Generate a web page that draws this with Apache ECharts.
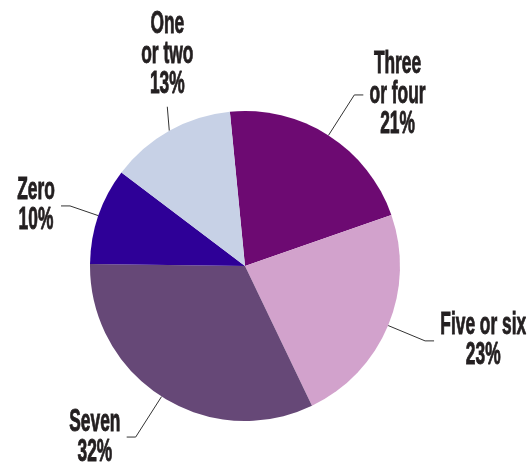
<!DOCTYPE html>
<html>
<head>
<meta charset="utf-8">
<script src="https://cdn.jsdelivr.net/npm/echarts@6/dist/echarts.min.js"></script>
<style>
  html, body { margin: 0; padding: 0; background: #ffffff; }
  #chart { width: 527px; height: 469px; }
</style>
</head>
<body>
<div id="chart"></div>
<script>
// Share of respondents by count, clockwise from the top
const categories = ['Three\nor four', 'Five or six', 'Seven', 'Zero', 'One\nor two'];
const shares = [21, 23, 32, 10, 13];
const sliceColors = ['#6d0a72', '#d2a2cc', '#664877', '#2e0097', '#c7d1e6'];
// radial leader length for each slice label
const leaderLengths = [48, 40, 48, 30, 26];

const FONT = '"Liberation Sans", Arial, sans-serif';
const TEXT_SQUEEZE = 0.56;     // horizontal squeeze that gives the labels a condensed look
const CX = 245, CY = 266;
const TOP_LABEL = 'One\nor two'; // this label sits above its slice on a vertical leader

const chart = echarts.init(document.getElementById('chart'), null, { renderer: 'canvas' });

chart.setOption({
  backgroundColor: '#ffffff',
  animation: false,
  series: [{
    type: 'pie',
    center: [CX, CY],
    radius: [0, 155],
    startAngle: 95.6,
    clockwise: true,
    avoidLabelOverlap: false,
    itemStyle: { borderWidth: 0 },
    label: {
      show: true,
      position: 'outside',
      formatter: p => p.name + '\n' + p.value + '%',
      fontFamily: FONT,
      fontWeight: 'bold',
      fontSize: 31,
      lineHeight: 30,
      color: '#231f20',
      textBorderColor: '#231f20',
      textBorderWidth: 0.9,
      align: 'center'
    },
    labelLine: {
      show: true,
      length: 40,
      length2: 9,
      lineStyle: { color: '#333333', width: 1 }
    },
    labelLayout: function (params) {
      const pts = params.labelLinePoints;
      const rect = params.labelRect;
      if (!pts) return {};
      const start = pts[0];
      const w = rect.width * TEXT_SQUEEZE;
      if (categories[params.dataIndex] === TOP_LABEL) {
        const top = [start[0] - 2, start[1] - 24];
        return {
          x: top[0],
          y: top[1] - 6 - rect.height / 2,
          align: 'center',
          verticalAlign: 'middle',
          labelLinePoints: [start, top, top]
        };
      }
      const end = pts[2];
      const dir = end[0] >= CX ? 1 : -1;
      return {
        x: end[0] + dir * (w / 2 + 6),
        y: end[1],
        align: 'center',
        verticalAlign: 'middle',
        labelLinePoints: pts
      };
    },
    data: categories.map((name, i) => ({
      name: name,
      value: shares[i],
      itemStyle: { color: sliceColors[i] },
      labelLine: { length: leaderLengths[i] }
    }))
  }]
});

// squeeze each label horizontally around its centre anchor
const pieData = chart.getModel().getSeriesByIndex(0).getData();
pieData.each(function (i) {
  const piece = pieData.getItemGraphicEl(i);
  const text = piece && piece.getTextContent();
  if (text) {
    text.scaleX = TEXT_SQUEEZE;
    text.markRedraw();
  }
});
chart.getZr().refresh();
</script>
</body>
</html>
